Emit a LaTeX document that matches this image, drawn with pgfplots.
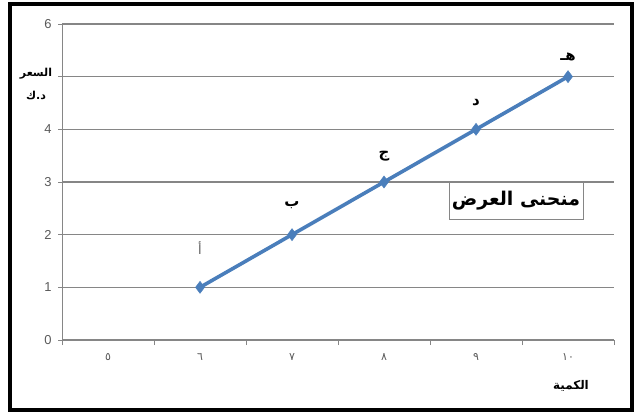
\documentclass[border=0pt]{standalone}
\usepackage{pgfplots}
\pgfplotsset{compat=1.18}
\usepackage{fontspec}
\setmainfont{Liberation Sans}
\newfontfamily\arabicfont[Script=Arabic]{DejaVu Sans}
\TeXXeTstate=1
\definecolor{lineblue}{RGB}{74,126,187}
\definecolor{gridgray}{RGB}{134,134,134}
\definecolor{labgray}{RGB}{89,89,89}
\begin{document}
\begin{tikzpicture}
\begin{axis}[
  at={(0,0)}, anchor=south west,
  scale only axis,
  width=552bp, height=316bp,
  xmin=-0.5, xmax=5.5,
  ymin=0, ymax=6,
  axis x line*=bottom, axis y line*=left,
  axis line style={gridgray, line width=1bp},
  xtick={0,1,2,3,4,5},
  xticklabels={{\arabicfont ٥},{\arabicfont ٦},{\arabicfont ٧},{\arabicfont ٨},{\arabicfont ٩},{\arabicfont ١٠}},
  minor xtick={-0.5,0.5,1.5,2.5,3.5,4.5,5.5},
  major x tick style={draw=none},
  minor x tick style={gridgray, line width=0.8bp},
  minor tick length=5bp,
  tick align=outside,
  xticklabel style={font=\fontsize{11}{12}\selectfont, text=labgray, yshift=-6bp},
  ytick={0,1,2,3,4,5,6},
  yticklabels={0,1,2,3,4,,6},
  major y tick style={gridgray, line width=0.8bp},
  major tick length=4bp,
  yticklabel style={font=\fontsize{13}{14}\selectfont, text=labgray, xshift=-3bp},
  /pgf/number format/assume math mode=true,
  ymajorgrids,
  grid style={gridgray, line width=1.4bp},
  clip=false,
]
\addplot[color=lineblue, line width=3.6bp, mark=diamond*, mark size=6bp,
  mark options={fill=lineblue, draw=lineblue, line width=0.5bp}]
  coordinates {(1,1) (2,2) (3,3) (4,4) (5,5)};

% point names along the supply curve
\node[font=\arabicfont\fontsize{13}{14}\selectfont, text=labgray] at (axis cs:1,1.75) {أ};
\node[font=\arabicfont\bfseries\fontsize{15}{16}\selectfont] at (axis cs:2,2.56) {ب};
\node[font=\arabicfont\bfseries\fontsize{15}{16}\selectfont] at (axis cs:3,3.49) {ج};
\node[font=\arabicfont\bfseries\fontsize{15}{16}\selectfont] at (axis cs:4,4.5) {د};
\node[font=\arabicfont\bfseries\fontsize{15}{16}\selectfont] at (axis cs:5,5.37) {هـ};
\end{axis}

% curve title box
\node[draw=gridgray, line width=0.9bp, fill=white, inner xsep=3bp, inner ysep=9bp,
  font=\arabicfont\bfseries\fontsize{19}{22}\selectfont] at (454bp,139bp)
  {\beginR منحنى العرض\endR};

% axis titles
\node[font=\arabicfont\bfseries\fontsize{11}{12}\selectfont] at (-26bp,266bp) {السعر};
\node[font=\arabicfont\bfseries\fontsize{11}{12}\selectfont] at (-26bp,245bp) {د.ك};
\node[font=\arabicfont\bfseries\fontsize{12}{13}\selectfont] at (509bp,-46bp) {الكمية};

% outer frame
\draw[black, line width=3.5bp] (-52bp,-70bp) rectangle (570bp,336bp);

\pgfresetboundingbox
\path (-62bp,-79bp) rectangle (578bp,340bp);
\end{tikzpicture}
\end{document}
